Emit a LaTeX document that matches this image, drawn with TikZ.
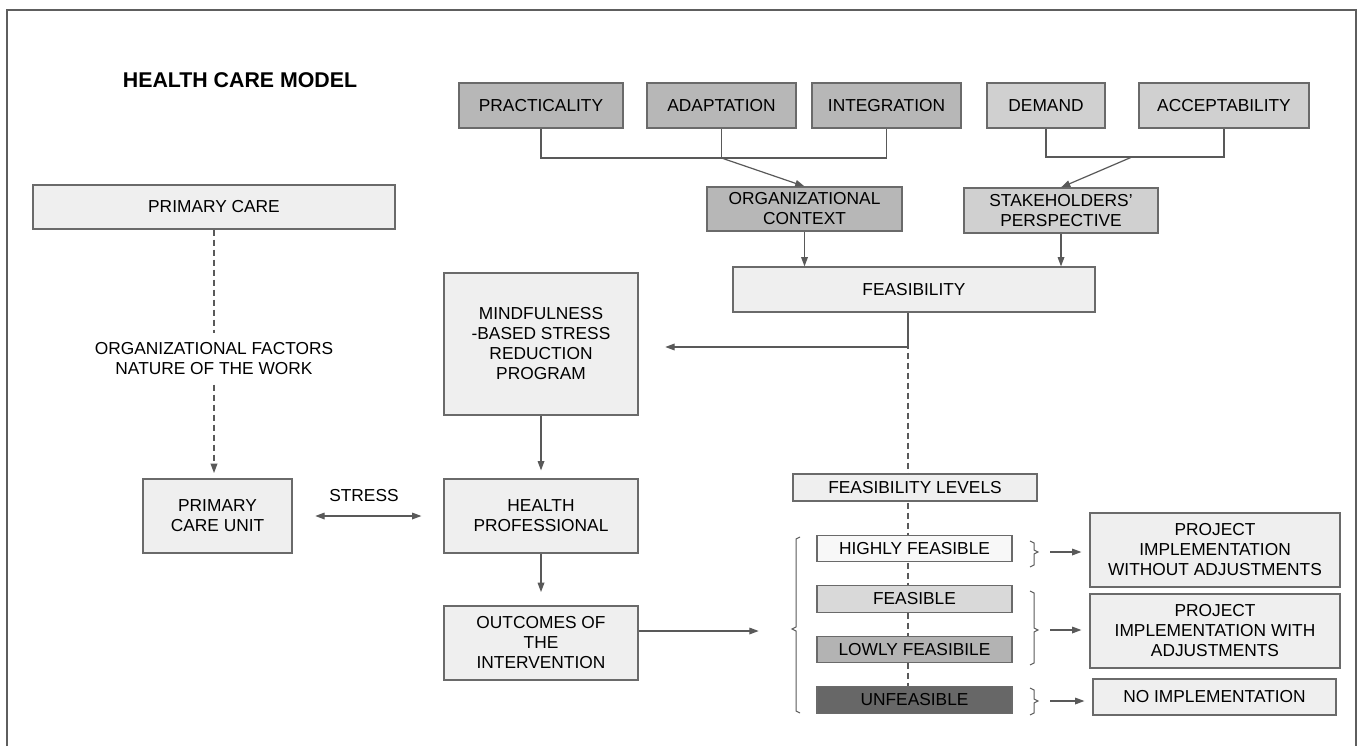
\documentclass[tikz,border=0pt]{standalone}
\usepackage{fontspec}
\setmainfont{Liberation Sans}
\usetikzlibrary{arrows.meta,backgrounds}

\definecolor{framegray}{HTML}{5E5E5E}
\definecolor{boxline}{HTML}{6A6A6A}
\definecolor{linegray}{HTML}{595959}
\definecolor{palefill}{HTML}{EFEFEF}
\definecolor{midfill}{HTML}{B7B7B7}
\definecolor{lightfill}{HTML}{D0D0D0}
\definecolor{highfill}{HTML}{F8F8F8}
\definecolor{feasfill}{HTML}{D9D9D9}
\definecolor{lowfill}{HTML}{B3B3B3}
\definecolor{unfeasfill}{HTML}{676767}

\newcommand\boxfont{\fontsize{13}{15}\selectfont}

\begin{document}
\begin{tikzpicture}[x=0.75pt,y=0.75pt,yscale=-1,xscale=1,
	box/.style={draw=boxline,line width=0.9pt,fill=palefill,inner sep=0pt,align=center,font=\boxfont},
	link/.style={draw=linegray,line width=0.9pt},
	linkarrow/.style={link,-{Triangle[length=7pt,width=5pt]}},
	dashlink/.style={link,dash pattern={on 4.5pt off 3pt}},
	bracket/.style={draw=linegray,line width=0.75pt}]
	\useasboundingbox (0,0) rectangle (1359,746);
	
	%Shape: Frame
	\draw [draw=framegray,line width=1.1pt] (7,746) -- (7,10) -- (1356,10) -- (1356,746) ;
	
	% Text Node
	\node [font=\bfseries\fontsize{16}{19}\selectfont] (title) at (240,80) {HEALTH CARE MODEL};
	
	%Shape: Rectangle (top row)
	\node [box,fill=midfill,minimum width=123pt,minimum height=33.75pt] (practicality) at (541,105.5) {PRACTICALITY};
	\node [box,fill=midfill,minimum width=111.75pt,minimum height=33.75pt] (adaptation) at (721.5,105.5) {ADAPTATION};
	\node [box,fill=midfill,minimum width=111.75pt,minimum height=33.75pt] (integration) at (886.5,105.5) {INTEGRATION};
	\node [box,fill=lightfill,minimum width=88.5pt,minimum height=33.75pt] (demand) at (1046,105.5) {DEMAND};
	\node [box,fill=lightfill,minimum width=127.5pt,minimum height=33.75pt] (acceptability) at (1224,105.5) {ACCEPTABILITY};
	
	%Shape: Rectangle (second row)
	\node [box,fill=midfill,minimum width=146.25pt,minimum height=33pt] (orgcontext) at (804.5,209) {ORGANIZATIONAL\\CONTEXT};
	\node [box,fill=lightfill,minimum width=145.5pt,minimum height=33.75pt] (stakeholders) at (1061,210.5) {STAKEHOLDERS'\\PERSPECTIVE};
	\node [box,minimum width=271.5pt,minimum height=33.75pt] (feasibility) at (914,289.5) {FEASIBILITY};
	
	%Shape: Rectangle (left column)
	\node [box,minimum width=271.5pt,minimum height=33pt] (primarycare) at (214,207) {PRIMARY CARE};
	\node [font=\boxfont,align=center,inner sep=7pt] (orgfactors) at (214,359) {ORGANIZATIONAL FACTORS\\NATURE OF THE WORK};
	\node [box,minimum width=111.75pt,minimum height=55.5pt] (pcu) at (217.5,516) {PRIMARY\\CARE UNIT};
	
	%Shape: Rectangle (middle column)
	\node [box,minimum width=145.5pt,minimum height=106.5pt] (mindfulness) at (541,344) {MINDFULNESS\\-BASED STRESS\\REDUCTION\\PROGRAM};
	\node [box,minimum width=145.5pt,minimum height=55.5pt] (hprof) at (541,516) {HEALTH\\PROFESSIONAL};
	\node [box,minimum width=145.5pt,minimum height=55.5pt] (outcomes) at (541,643) {OUTCOMES OF\\THE\\INTERVENTION};
	
	% Text Node
	\node [font=\boxfont,inner sep=0.75pt] (stress) at (364,496) {STRESS};
	
	%Shape: Rectangle (feasibility levels)
	\node [box,minimum width=183pt,minimum height=20.25pt] (levels) at (915,487.5) {FEASIBILITY LEVELS};
	\node [box,fill=highfill,minimum width=146.25pt,minimum height=20pt] (highly) at (914.5,548.5) {HIGHLY FEASIBLE};
	\node [box,fill=feasfill,minimum width=146.25pt,minimum height=20pt] (feasible) at (914.5,599) {FEASIBLE};
	\node [box,fill=lowfill,minimum width=146.25pt,minimum height=20pt] (lowly) at (914.5,649.5) {LOWLY FEASIBILE};
	\node [box,fill=unfeasfill,minimum width=146.25pt,minimum height=20pt] (unfeasible) at (914.5,700) {UNFEASIBLE};
	
	%Shape: Rectangle (implementation)
	\node [box,minimum width=187.5pt,minimum height=55.5pt] (withoutadj) at (1215,550) {PROJECT\\IMPLEMENTATION\\WITHOUT ADJUSTMENTS};
	\node [box,minimum width=187.5pt,minimum height=55.5pt] (withadj) at (1215,631) {PROJECT\\IMPLEMENTATION WITH\\ADJUSTMENTS};
	\node [box,minimum width=182.25pt,minimum height=27pt] (noimpl) at (1214.5,697) {NO IMPLEMENTATION};
	
	\coordinate (orgjoin) at (721.5,158);
	\coordinate (stakejoin) at (1132,157);
	\coordinate (feasfoot) at (908,347);
	\coordinate (levelstick) at (792,631);
	\coordinate (hightick) at (1038,552);
	\coordinate (midtick) at (1038,630);
	\coordinate (lowtick) at (1038,701);
	
	%Straight Lines
	\draw [link] (practicality.south) |- (orgjoin) -| (integration.south) ;
	\draw [link] (adaptation.south) -- (orgjoin) ;
	\draw [linkarrow] (orgjoin) -- (orgcontext.north) ;
	\draw [link] (demand.south) |- (stakejoin) -| (acceptability.south) ;
	\draw [linkarrow] (stakejoin) -- (stakeholders.north) ;
	\draw [linkarrow] (orgcontext.south) -- (orgcontext.south |- feasibility.north) ;
	\draw [linkarrow] (stakeholders.south) -- (stakeholders.south |- feasibility.north) ;
	\draw [linkarrow,shorten >=20pt] (feasibility.south -| feasfoot) -- (feasfoot) -- (mindfulness.east |- feasfoot) ;
	\begin{scope}[on background layer]
		\draw [dashlink] (feasibility.south -| feasfoot) -- (unfeasible.north -| feasfoot) ;
	\end{scope}
	
	\draw [dashlink] (primarycare.south) -- (orgfactors.north) ;
	\draw [dashlink,-{Triangle[length=7pt,width=5pt]},shorten >=4pt] (orgfactors.south) -- (orgfactors.south |- pcu.north) ;
	\draw [link,{Triangle[length=7pt,width=5pt]}-{Triangle[length=7pt,width=5pt]},shorten <=17pt,shorten >=16.5pt] (pcu) -- (hprof) ;
	\draw [linkarrow,shorten >=6pt] (mindfulness) -- (hprof) ;
	\draw [linkarrow,shorten >=10pt] (hprof) -- (outcomes) ;
	\draw [linkarrow,shorten >=25pt] (outcomes.east |- levelstick) -- (levelstick) ;
	
	%Shape: Brackets
	\draw [bracket] (800,537) -- (796,539) -- (796,627) -- (792,629) -- (796,631) -- (796,711) -- (800,713) ;
	\draw [bracket] (1030,541) -- (1034,543) -- (1034,550) -- (1038,552) -- (1034,554) -- (1034,565) -- (1030,567) ;
	\draw [bracket] (1030,591) -- (1034,593) -- (1034,628) -- (1038,630) -- (1034,632) -- (1034,663) -- (1030,665) ;
	\draw [bracket] (1030,688) -- (1034,690) -- (1034,699) -- (1038,701) -- (1034,703) -- (1034,713) -- (1030,715) ;
	
	\draw [linkarrow,shorten <=9pt,shorten >=6pt] (hightick) -- (hightick -| withoutadj.west) ;
	\draw [linkarrow,shorten <=9pt,shorten >=6pt] (midtick) -- (midtick -| withadj.west) ;
	\draw [linkarrow,shorten <=9pt,shorten >=6pt] (lowtick) -- (lowtick -| noimpl.west) ;
	
\end{tikzpicture}
\end{document}
